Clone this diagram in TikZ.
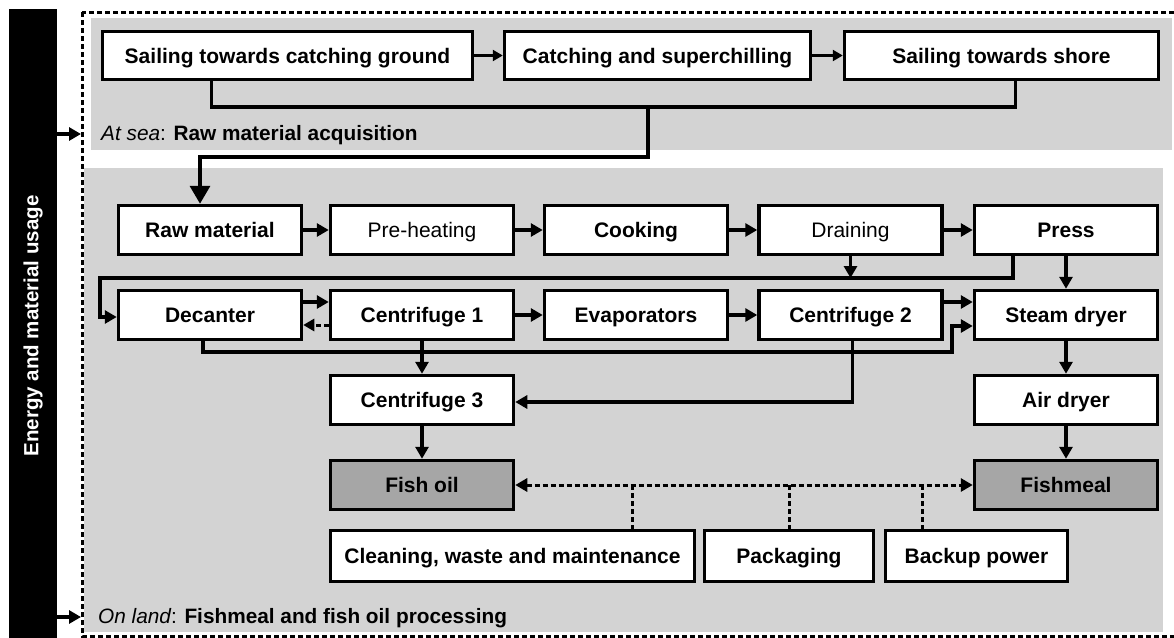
\documentclass[tikz,border=0pt]{standalone}
\usepackage{fontspec}
\setmainfont{Liberation Sans}
\usetikzlibrary{arrows.meta,calc}
\definecolor{panel}{RGB}{211,211,211}
\definecolor{prod}{RGB}{166,166,166}
\begin{document}
\begin{tikzpicture}[x=1pt,y=-1pt,
  box/.style={draw=black, line width=3.5pt, fill=white, minimum width=183pt, minimum height=49pt, inner sep=0pt, text height=15pt, text depth=0pt, font=\fontsize{21}{24}\selectfont\bfseries},
  plainbox/.style={font=\fontsize{21}{24}\selectfont},
  prodbox/.style={fill=prod},
  conn/.style={line width=3.5pt},
  arr/.style={conn, -{Triangle[length=12pt,width=13pt]}},
  sarr/.style={conn, -{Triangle[length=10pt,width=11pt]}},
  bigarr/.style={conn, -{Triangle[length=18pt,width=20pt]}},
  dotline/.style={line width=3pt, dash pattern=on 5pt off 3pt},
  dotarr/.style={dotline, {Triangle[length=12pt,width=13pt]}-{Triangle[length=12pt,width=13pt]}},
  dotsarr/.style={dotline, -{Triangle[length=11pt,width=12pt]}},
  lbl/.style={anchor=base west, inner sep=0pt, font=\fontsize{20.8}{24}\selectfont}
]
\useasboundingbox (0,0) rectangle (1174,637);
\clip (0,0) rectangle (1174,637);
% panels
\fill[panel] (91,18) rectangle (1172,150);
\fill[panel] (84,168) rectangle (1163,632);
\draw[dotline] (82,12) rectangle (1200,636);
% left bar
\node[fill=black, rotate=90, minimum width=634pt, minimum height=48pt, inner sep=0pt, text=white, font=\fontsize{20.5}{24}\selectfont\bfseries] (bar) at (33,326) {Energy and material usage};
\coordinate (barA) at (57,134);
\coordinate (dashA) at (81,134);
\coordinate (barB) at (57,617);
\coordinate (dashB) at (81,617);
\draw[arr] (barA) -- (dashA);
\draw[arr] (barB) -- (dashB);
% labels
\node[lbl] (sealbl) at (101,140) {{\itshape At sea}: {\bfseries Raw material acquisition}};
\node[lbl] (landlbl) at (98,623) {{\itshape On land}: {\bfseries Fishmeal and fish oil processing}};
% top row
\node[box, minimum width=370pt, minimum height=48pt] (sg) at (287.5,55.5) {Sailing towards catching ground};
\node[box, minimum width=306pt, minimum height=48pt] (cs) at (657.5,55.5) {Catching and superchilling};
\node[box, minimum width=314pt, minimum height=48pt] (ss) at (1001.5,55.5) {Sailing towards shore};
\draw[sarr] (sg.east) -- (cs.west);
\draw[sarr] (cs.east) -- (ss.west);
% row 1
\node[box] (raw) at (210,230) {Raw material};
\node[box,plainbox] (pre) at (422,230) {Pre-heating};
\node[box] (cook) at (636,230) {Cooking};
\node[box,plainbox] (drain) at (850.5,230) {Draining};
\node[box] (press) at (1066,230) {Press};
% row 2
\node[box] (dec) at (210,315) {Decanter};
\node[box] (c1) at (422,315) {Centrifuge 1};
\node[box] (evap) at (636,315) {Evaporators};
\node[box] (c2) at (850.5,315) {Centrifuge 2};
\node[box] (steam) at (1066,315) {Steam dryer};
% row 3
\node[box] (c3) at (422,400) {Centrifuge 3};
\node[box] (air) at (1066,400) {Air dryer};
% row 4
\node[box,prodbox] (oil) at (422,485) {Fish oil};
\node[box,prodbox] (meal) at (1066,485) {Fishmeal};
% row 5
\node[box, minimum width=364pt, minimum height=51pt] (clean) at (512.5,556) {Cleaning, waste and maintenance};
\node[box, minimum width=169pt, minimum height=51pt] (pack) at (789,556) {Packaging};
\node[box, minimum width=182pt, minimum height=51pt] (backup) at (976.5,556) {Backup power};
% sea to land connector
\coordinate (j1) at (648,107);
\coordinate (j2) at (648,157);
\draw[conn] ([xshift=-76pt]sg.south) |- (j1) -| ([xshift=14pt]ss.south);
\draw[bigarr] (j1) -- (j2) -| ([xshift=-10pt]raw.north);
% row 1 arrows
\draw[arr] (raw.east) -- (pre.west);
\draw[arr] (pre.east) -- (cook.west);
\draw[arr] (cook.east) -- (drain.west);
\draw[arr] (drain.east) -- (press.west);
% press / draining to decanter
\coordinate (lp) at (100,278);
\draw[arr] ([xshift=-53pt]press.south) |- (lp) |- ([yshift=-2pt]dec.west);
\draw[arr] (drain.south) -- (drain.south |- lp);
\draw[arr] (press.south) -- (steam.north);
% row 2 arrows
\draw[arr] ([yshift=13pt]dec.east) -- ([yshift=13pt]c1.west);
\draw[dotsarr] ([yshift=-10pt]c1.west) -- ([yshift=-10pt]dec.east);
\draw[arr] (c1.east) -- (evap.west);
\draw[arr] (evap.east) -- (c2.west);
\draw[arr] ([yshift=13pt]c2.east) -- ([yshift=13pt]steam.west);
\coordinate (dl) at (952,352);
\draw[arr] ([xshift=-7pt]dec.south) |- (dl) |- ([yshift=-11pt]steam.west);
\draw[arr] (c1.south) -- (c3.north);
\draw[arr] ([xshift=2pt]c2.south) |- ([yshift=-2pt]c3.east);
% dryers
\draw[arr] (steam.south) -- (air.north);
\draw[arr] (air.south) -- (meal.north);
\draw[arr] (c3.south) -- (oil.north);
% dotted services
\draw[dotarr] (oil.east) -- (meal.west);
\coordinate (d1) at (632,485);
\coordinate (d3) at (922,485);
\draw[dotline] (d1) -- (d1 |- clean.north);
\draw[dotline] (pack.north |- oil.east) -- (pack.north);
\draw[dotline] (d3) -- (d3 |- backup.north);
\end{tikzpicture}
\end{document}
